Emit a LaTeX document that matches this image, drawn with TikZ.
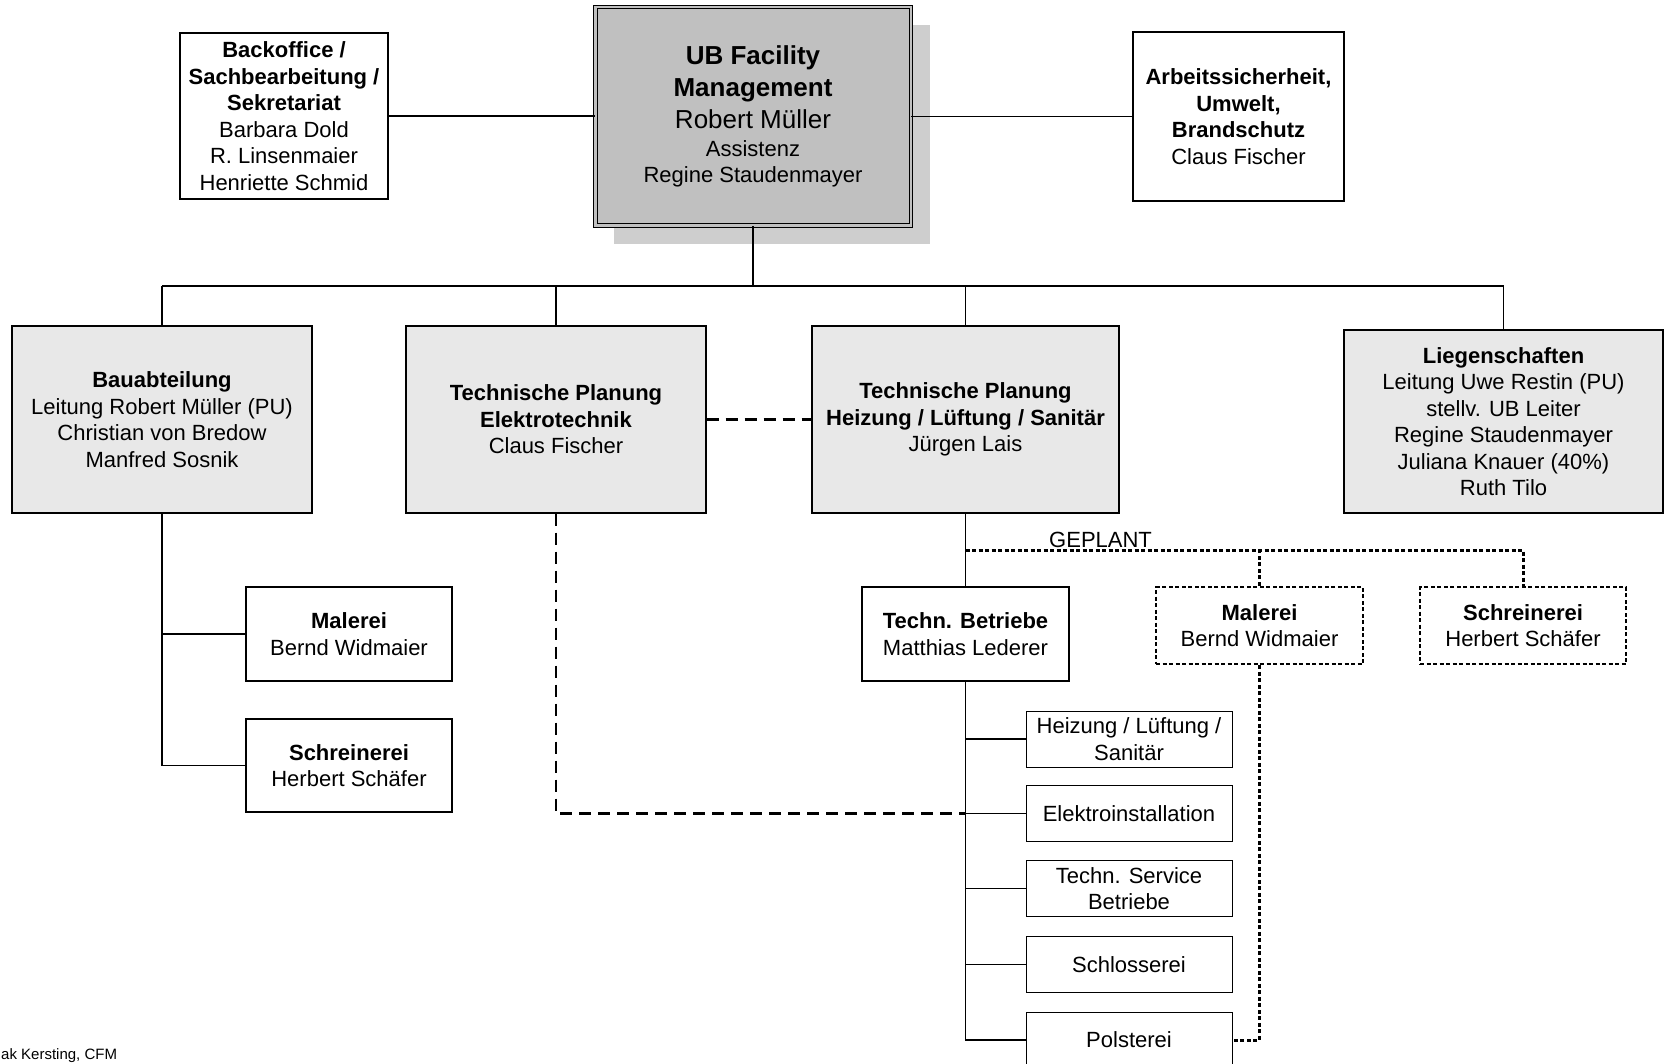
\documentclass[tikz,border=0pt]{standalone}
\usepackage{fontspec}
\setmainfont{Liberation Sans}
\usetikzlibrary{shadows}
\definecolor{headgray}{HTML}{C0C0C0}
\definecolor{shadowgray}{HTML}{CECECE}
\definecolor{deptgray}{HTML}{E8E8E8}
\newcommand{\headsmall}{\fontsize{22}{26}\selectfont}
\tikzset{unit/.style={draw,line width=1.2pt,fill=white,align=center,inner sep=0pt,font=\fontsize{22}{26.5}\selectfont}}
\tikzset{dept/.style={unit,fill=deptgray}}
\tikzset{planned/.style={unit,line width=2.8pt,dash pattern=on 4pt off 2.5pt}}
\tikzset{leader/.style={draw,line width=1pt,double=headgray,double distance=2.5pt,fill=headgray,align=center,inner sep=0pt,
  font=\fontsize{26}{32}\selectfont,drop shadow={shadow xshift=19pt,shadow yshift=-18pt,fill=shadowgray,opacity=1}}}
\tikzset{link/.style={line width=1.5pt}}
\tikzset{dashlink/.style={line width=2.5pt,dash pattern=on 12pt off 7pt}}
\tikzset{dotlink/.style={line width=3pt,dash pattern=on 4pt off 2.5pt}}

\begin{document}
\begin{tikzpicture}[x=1pt,y=-1pt]
  \useasboundingbox (0,0) rectangle (1665,1064);
  \clip (0,0) rectangle (1665,1064);

  % Leitung
  \node[leader,minimum width=315.5pt,minimum height=218.5pt] (head) at (753,116.5)
    {\textbf{UB Facility}\\\textbf{Management}\\Robert Müller\\[-4pt]\headsmall Assistenz\\[-5.5pt]\headsmall Regine Staudenmayer};
  \node[unit,minimum width=208pt,minimum height=166pt] (backoffice) at (284,116)
    {\textbf{Backoffice /}\\\textbf{Sachbearbeitung /}\\\textbf{Sekretariat}\\Barbara Dold\\R. Linsenmaier\\Henriette Schmid};
  \node[unit,minimum width=211pt,minimum height=169pt] (arbeit) at (1238.5,116.5)
    {\textbf{Arbeitssicherheit,}\\\textbf{Umwelt,}\\\textbf{Brandschutz}\\Claus Fischer};

  % Abteilungen
  \node[dept,minimum width=300pt,minimum height=187pt] (bau) at (162,419.5)
    {\textbf{Bauabteilung}\\Leitung Robert Müller (PU)\\Christian von Bredow\\Manfred Sosnik};
  \node[dept,minimum width=300pt,minimum height=187pt] (elektro) at (556,419.5)
    {\textbf{Technische Planung}\\\textbf{Elektrotechnik}\\Claus Fischer};
  \node[dept,minimum width=307pt,minimum height=187pt] (hls) at (965.5,419.5)
    {\textbf{Technische Planung}\\\textbf{Heizung / Lüftung / Sanitär}\\Jürgen Lais};
  \node[dept,minimum width=319pt,minimum height=183pt] (liegen) at (1503.5,421.5)
    {\textbf{Liegenschaften}\\Leitung Uwe Restin (PU)\\stellv. UB Leiter\\Regine Staudenmayer\\Juliana Knauer (40\%)\\Ruth Tilo};

  % Werkstaetten
  \node[unit,minimum width=206pt,minimum height=94pt] (malerA) at (349,634) {\textbf{Malerei}\\Bernd Widmaier};
  \node[unit,minimum width=206pt,minimum height=93pt] (schreinA) at (349,765.5) {\textbf{Schreinerei}\\Herbert Schäfer};
  \node[unit,minimum width=207pt,minimum height=94pt] (betriebe) at (965.5,634) {\textbf{Techn. Betriebe}\\Matthias Lederer};
  \node[planned,minimum width=207pt,minimum height=77pt] (malerB) at (1259.5,625.5) {\textbf{Malerei}\\Bernd Widmaier};
  \node[planned,minimum width=206pt,minimum height=77pt] (schreinB) at (1523,625.5) {\textbf{Schreinerei}\\Herbert Schäfer};
  \foreach \n/\y/\t in {hlsunit/739/{Heizung / Lüftung /\\Sanitär},elektroinst/813.5/Elektroinstallation,
      service/888.5/{Techn. Service\\Betriebe},schlosser/964.5/Schlosserei,polster/1040/Polsterei}
    \node[unit,line width=1pt,minimum width=206pt,minimum height=56pt] (\n) at (1129,\y) {\t};

  % Verbindungen
  \coordinate (bus) at (753,286);
  \coordinate (plan) at (965.5,550);
  \draw[link] (backoffice.east) -- (backoffice.east -| head.west);
  \draw[link] (head.east) -- (arbeit.west);
  \draw[link] (head.south) -- (bus);
  \draw[link] (bau.north |- bus) -- (liegen.north |- bus);
  \foreach \n in {bau,elektro,hls,liegen}
    \draw[link] (\n.north) -- (\n.north |- bus);
  \draw[dashlink] (elektro.east) -- (elektro.east -| hls.west);
  \draw[link] (bau.south) |- (malerA.west);
  \draw[link] (bau.south) |- (schreinA.west);
  \draw[link] (hls.south) -- (betriebe.north);
  \foreach \n in {hlsunit,elektroinst,service,schlosser,polster}
    \draw[link] (betriebe.south) |- (\n.west);
  \draw[dashlink] (elektro.south) |- (elektroinst.west -| betriebe.south);

  % geplant
  \draw[dotlink] (plan) -| (schreinB.north);
  \draw[dotlink] (malerB.north) -- (malerB.north |- plan);
  \draw[dotlink] (malerB.south) |- (polster.east);
  \node[anchor=base west,inner sep=0pt,font=\fontsize{22}{26}\selectfont] (geplant) at (1049,547) {GEPLANT};

  \node[anchor=base west,inner sep=0pt,font=\fontsize{15}{18}\selectfont] (author) at (1,1059.5) {ak Kersting, CFM};
\end{tikzpicture}
\end{document}
